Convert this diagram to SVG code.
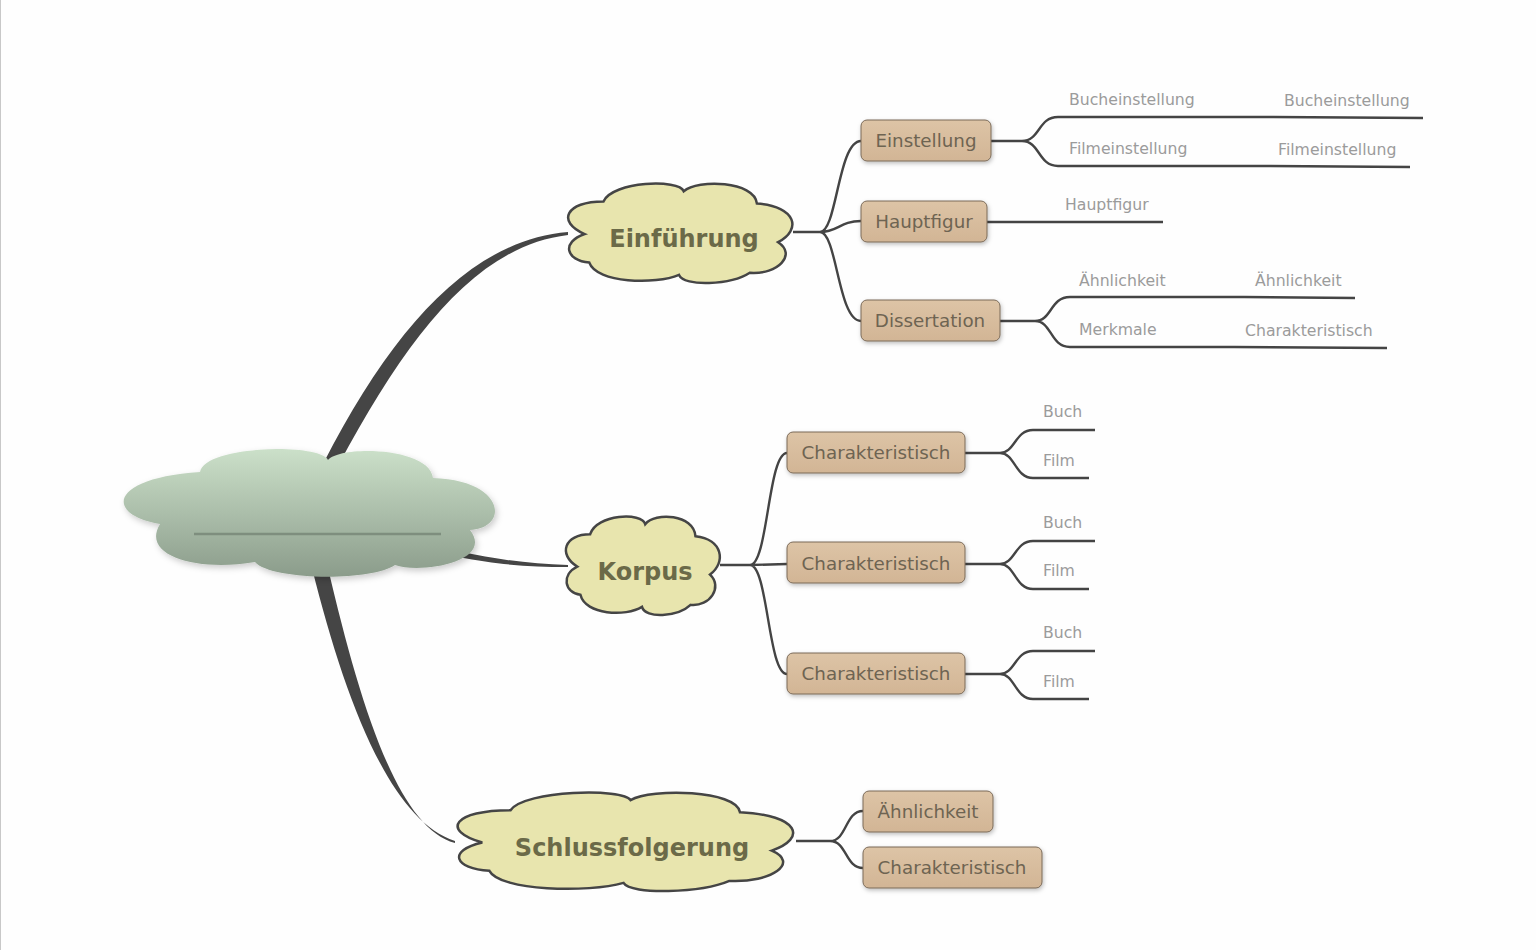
<svg xmlns="http://www.w3.org/2000/svg" width="1536" height="950" viewBox="0 0 1536 950">
<defs>
<linearGradient id="gCenter" x1="0" y1="0" x2="0" y2="1"><stop offset="0" stop-color="#cbe0c9"/><stop offset="1" stop-color="#8b9c8b"/></linearGradient>
<linearGradient id="gBox" x1="0" y1="0" x2="0" y2="1"><stop offset="0" stop-color="#ddc4a6"/><stop offset="1" stop-color="#d2b595"/></linearGradient>
<filter id="sh" x="-10%" y="-20%" width="130%" height="150%"><feDropShadow dx="1" dy="2" stdDeviation="2" flood-color="#000" flood-opacity="0.25"/></filter>
<filter id="shc" x="-10%" y="-20%" width="130%" height="150%"><feDropShadow dx="2" dy="3" stdDeviation="3" flood-color="#000" flood-opacity="0.2"/></filter>
<path id="cloud" vector-effect="non-scaling-stroke" d="M18,20 C22,0 50,-2 52,10 C58,-2 82,0 83,22 C100,25 102,48 92,60 C100,72 92,92 80,90 C72,102 52,104 50,92 C40,102 15,100 12,80 C2,78 0,60 10,52 C-2,40 2,20 18,20 Z"/>
</defs>
<style>
.conn{fill:none;stroke:#444;stroke-width:2.4}
.taper{fill:#454545}
.box{fill:url(#gBox);stroke:#7a6a58;stroke-width:1}
.bt{font-family:"DejaVu Sans",sans-serif;font-size:18.3px;fill:#6e6452;text-anchor:middle}
.ct{font-family:"DejaVu Sans",sans-serif;font-weight:bold;font-size:24px;fill:#6b6a48;text-anchor:middle}
.lt{font-family:"DejaVu Sans",sans-serif;font-size:15.7px;fill:#9b9b9b}
.cl{fill:#e8e5ae;stroke:#454545;stroke-width:2.5}
</style>
<rect width="1536" height="950" fill="#fefefe"/>
<line x1="0.5" y1="0" x2="0.5" y2="950" stroke="#c8c8c8" stroke-width="1"/>

<g id="connectors">
<path class="taper" d="M324,462 C392,330 470,240 568,232 L568,235 C476,246 408,336 339,464 Z"/>
<path class="taper" d="M458,551 C500,560 530,564 568,565 L568,567 C530,567 500,565 458,557 Z"/>
<path class="taper" d="M312,568 C345,700 390,820 455,841 L455,843 C398,828 360,705 328,568 Z"/>
<path class="conn" d="M793,232 L820,232 C837,232 838,141 861,141 M820,232 C838,232 840,221 861,221 M820,232 C837,232 838,321 861,321"/>
<path class="conn" d="M991,141 L1022,141 C1040,141 1038,117 1058,117 L1273,117 L1423,118 M1022,141 C1040,141 1038,166 1058,166 L1267,166 L1410,167"/>
<path class="conn" d="M987,222 L1163,222"/>
<path class="conn" d="M1000,321 L1035,321 C1052,321 1050,297 1070,297 L1244,297 L1355,298 M1035,321 C1052,321 1050,347 1070,347 L1234,347 L1387,348"/>
<path class="conn" d="M720,565 L750,565 C768,565 768,453 787,453 M750,565 L787,564 M750,565 C768,565 768,674 787,674"/>
<path class="conn" d="M965,453 L1000,453 C1015,453 1015,430 1033,430 L1095,430 M1000,453 C1015,453 1015,478 1033,478 L1089,478"/>
<path class="conn" d="M965,564 L1000,564 C1015,564 1015,541 1033,541 L1095,541 M1000,564 C1015,564 1015,589 1033,589 L1089,589"/>
<path class="conn" d="M965,674 L1000,674 C1015,674 1015,651 1033,651 L1095,651 M1000,674 C1015,674 1015,699 1033,699 L1089,699"/>
<path class="conn" d="M796,841 L830,841 C847,841 845,811 863,811 M830,841 C847,841 845,868 863,868"/>
</g>

<g id="center">
<path filter="url(#shc)" fill="url(#gCenter)" d="M200,472 C205,445 320,443 328,460 C340,445 430,447 433,478 C505,480 510,528 470,530 C495,562 420,574 395,565 C370,582 270,580 255,562 C200,572 140,557 160,524 C105,515 108,478 200,472 Z"/>
<line x1="194" y1="534" x2="441" y2="534" stroke="#7e8e7e" stroke-width="2.5"/>
</g>

<g id="einfuehrung">
<use href="#cloud" class="cl" transform="translate(561,181) scale(2.36,1.02)"/>
<text class="ct" x="684" y="247">Einführung</text>
</g>
<g id="korpus">
<use href="#cloud" class="cl" transform="translate(561,514) scale(1.62,1.01)"/>
<text class="ct" x="645" y="580">Korpus</text>
</g>
<g id="schluss">
<use href="#cloud" class="cl" transform="translate(447,790) scale(3.53,1.01)"/>
<text class="ct" x="632" y="856">Schlussfolgerung</text>
</g>

<g id="einstellung"><rect class="box" filter="url(#sh)" x="861" y="120" width="130" height="41" rx="6"/><text class="bt" x="926" y="147">Einstellung</text></g>
<g id="hauptfigur"><rect class="box" filter="url(#sh)" x="861" y="201" width="126" height="41" rx="6"/><text class="bt" x="924" y="228">Hauptfigur</text></g>
<g id="dissertation"><rect class="box" filter="url(#sh)" x="861" y="300" width="139" height="41" rx="6"/><text class="bt" x="930" y="327">Dissertation</text></g>
<g id="char1"><rect class="box" filter="url(#sh)" x="787" y="432" width="178" height="41" rx="6"/><text class="bt" x="876" y="459">Charakteristisch</text></g>
<g id="char2"><rect class="box" filter="url(#sh)" x="787" y="542" width="178" height="41" rx="6"/><text class="bt" x="876" y="570">Charakteristisch</text></g>
<g id="char3"><rect class="box" filter="url(#sh)" x="787" y="653" width="178" height="41" rx="6"/><text class="bt" x="876" y="680">Charakteristisch</text></g>
<g id="aehnlichkeit"><rect class="box" filter="url(#sh)" x="863" y="791" width="130" height="41" rx="6"/><text class="bt" x="928" y="818">Ähnlichkeit</text></g>
<g id="char4"><rect class="box" filter="url(#sh)" x="863" y="847" width="179" height="41" rx="6"/><text class="bt" x="952" y="874">Charakteristisch</text></g>

<g id="leaves">
<text class="lt" x="1069" y="105">Bucheinstellung</text>
<text class="lt" x="1284" y="106">Bucheinstellung</text>
<text class="lt" x="1069" y="154">Filmeinstellung</text>
<text class="lt" x="1278" y="155">Filmeinstellung</text>
<text class="lt" x="1065" y="210">Hauptfigur</text>
<text class="lt" x="1079" y="286">Ähnlichkeit</text>
<text class="lt" x="1255" y="286">Ähnlichkeit</text>
<text class="lt" x="1079" y="335">Merkmale</text>
<text class="lt" x="1245" y="336">Charakteristisch</text>
<text class="lt" x="1043" y="417">Buch</text>
<text class="lt" x="1043" y="466">Film</text>
<text class="lt" x="1043" y="528">Buch</text>
<text class="lt" x="1043" y="576">Film</text>
<text class="lt" x="1043" y="638">Buch</text>
<text class="lt" x="1043" y="687">Film</text>
</g>
</svg>
